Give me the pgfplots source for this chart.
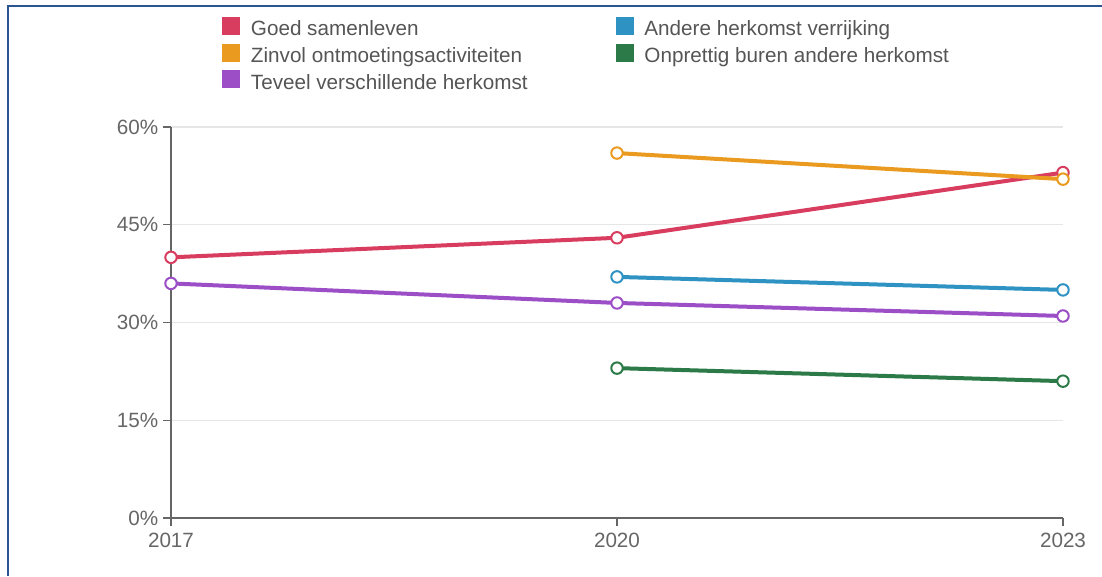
\documentclass[border=0pt]{standalone}
\usepackage{pgfplots}
\pgfplotsset{compat=1.18}
\usepackage{fontspec}
\setmainfont{Liberation Sans}
\definecolor{cRed}{HTML}{D83C5E}
\definecolor{cOrange}{HTML}{E99A1F}
\definecolor{cBlue}{HTML}{2E93C2}
\definecolor{cGreen}{HTML}{2B7A47}
\definecolor{cPurple}{HTML}{9B4EC6}
\definecolor{cAxis}{HTML}{666666}
\definecolor{cGrid}{HTML}{E6E6E6}
\definecolor{cText}{HTML}{555555}
\definecolor{cFrame}{HTML}{2B5493}
\pgfplotstableread{
year goed
2017 40
2020 43
2023 53
}\goed
\pgfplotstableread{
year val
2020 56
2023 52
}\zinvol
\pgfplotstableread{
year val
2020 37
2023 35
}\andere
\pgfplotstableread{
year val
2020 23
2023 21
}\onprettig
\pgfplotstableread{
year val
2017 36
2020 33
2023 31
}\teveel
\begin{document}
\begin{tikzpicture}
\useasboundingbox (0,0) rectangle (826.5pt,432pt);
\draw[cFrame, line width=2pt] (6pt,0pt) -- (6pt,427.5pt) -- (826.5pt,427.5pt);
\begin{axis}[
  at={(128.25pt,43.5pt)}, anchor=south west,
  scale only axis, width=669pt, height=293.25pt,
  xmin=2017, xmax=2023, ymin=0, ymax=60,
  xtick={2017,2020,2023}, ytick={0,15,30,45,60},
  xticklabel style={/pgf/number format/1000 sep={}, yshift=-1.5pt},
  yticklabel={\pgfmathprintnumber{\tick}\%},
  /pgf/number format/assume math mode=true,
  ticklabel style={font=\fontsize{15.5pt}{18pt}\selectfont, text=cAxis},
  axis x line=bottom, axis y line=left,
  axis line style={-, cAxis, line width=1.8pt},
  tick style={cAxis, line width=1.1pt},
  tick align=outside, major tick length=6pt,
  ymajorgrids, grid style={cGrid, line width=1pt},
  clip=false,
  every axis plot/.append style={line width=3pt, mark=*, mark size=4.3pt,
    mark options={fill=white, line width=1.5pt}},
  legend columns=2,
  legend style={at={(0.0572,1.282)}, anchor=north west, draw=none, fill=none,
    inner sep=0pt, font=\fontsize{15.5pt}{18pt}\selectfont, text=cText,
    cells={anchor=west}, row sep=1pt,
    nodes={text height=11pt, text depth=3pt},
    /tikz/every odd column/.append style={column sep=6pt},
    /tikz/every even column/.append style={column sep=64pt}},
  legend image code/.code={\fill[#1, draw=none] (0pt,-3.5pt) rectangle (13.5pt,10pt);},
]
\addplot[cRed] table[x=year,y=goed] {\goed};
\addlegendentry{Goed samenleven}
\addplot[cBlue] table[x=year,y=val] {\andere};
\addlegendentry{Andere herkomst verrijking}
\addplot[cOrange] table[x=year,y=val] {\zinvol};
\addlegendentry{Zinvol ontmoetingsactiviteiten}
\addplot[cGreen] table[x=year,y=val] {\onprettig};
\addlegendentry{Onprettig buren andere herkomst}
\addplot[cPurple] table[x=year,y=val] {\teveel};
\addlegendentry{Teveel verschillende herkomst}
\end{axis}
\end{tikzpicture}
\end{document}
